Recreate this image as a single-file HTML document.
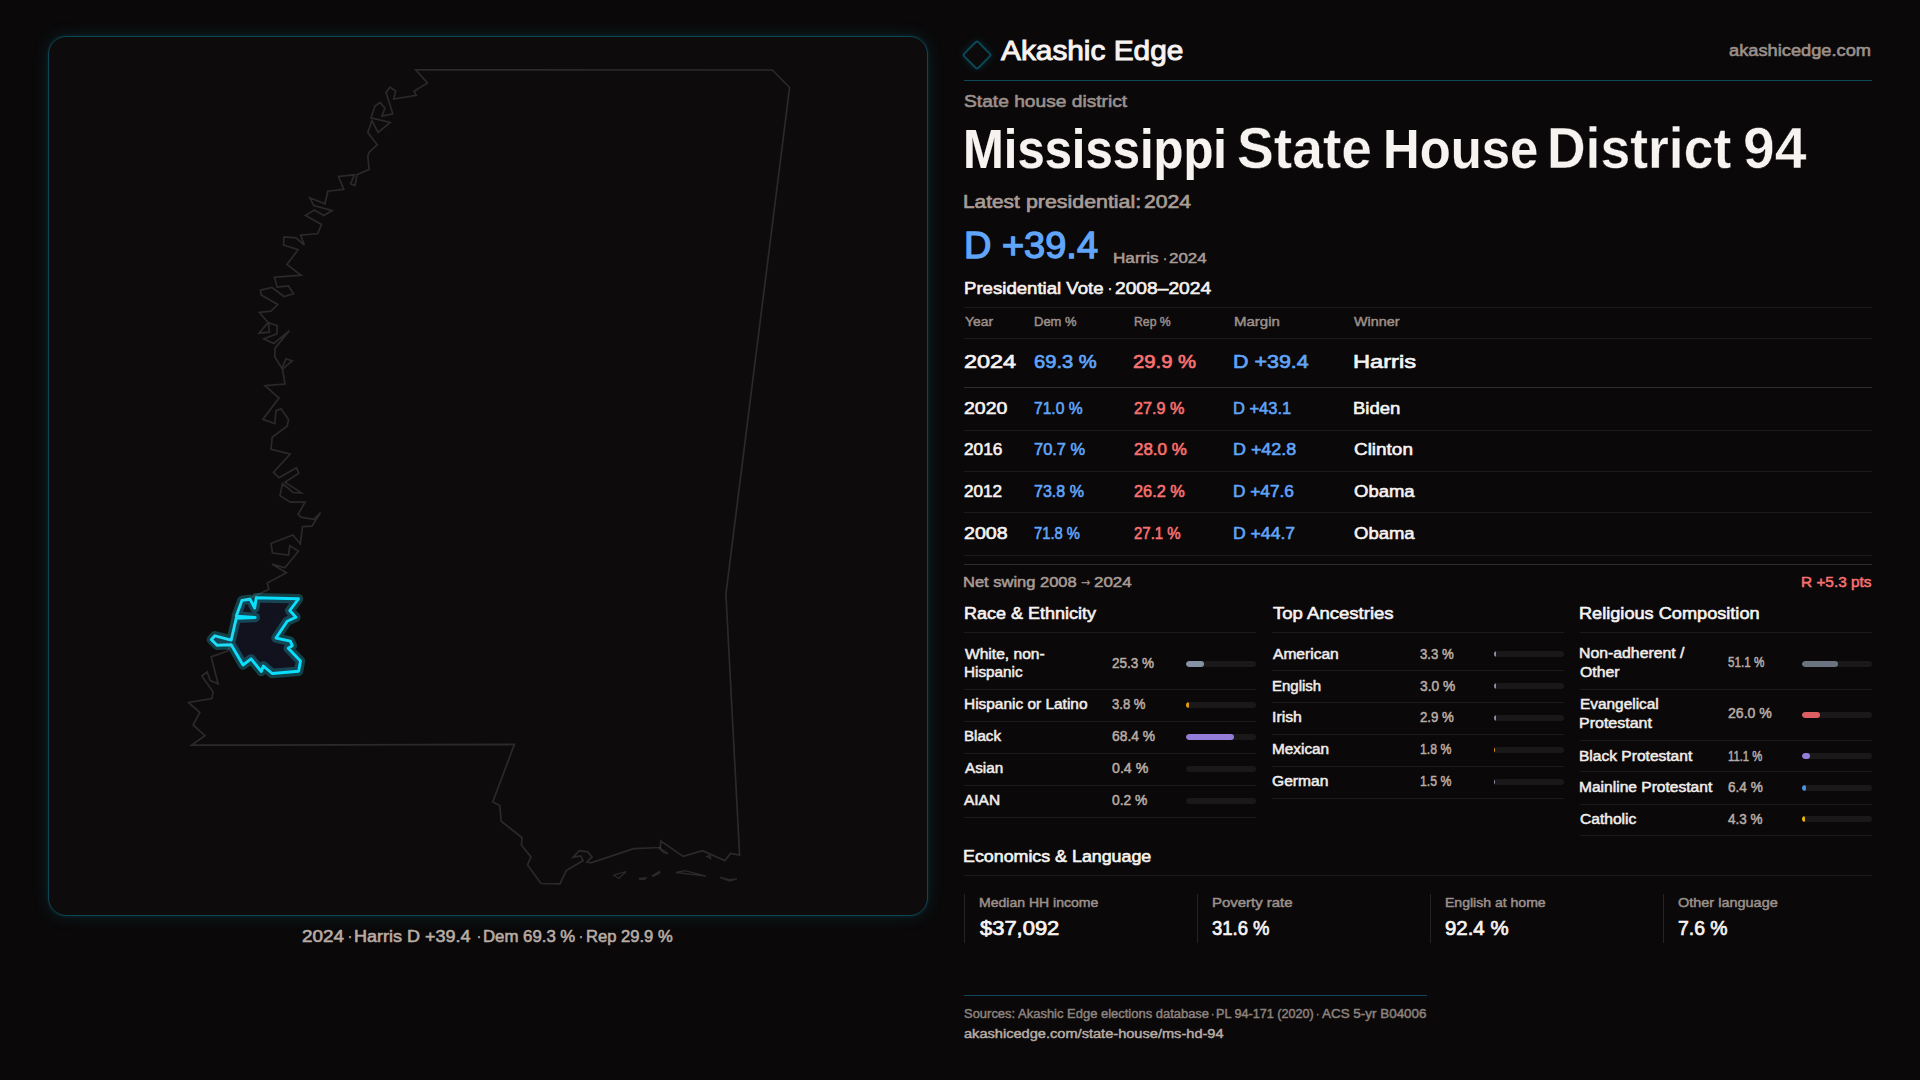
<!DOCTYPE html>
<html lang="en"><head><meta charset="utf-8"><title>Mississippi State House District 94 — Akashic Edge</title>
<style>
html,body{margin:0;padding:0}
body{width:1920px;height:1080px;overflow:hidden;background:#0a0809;font-family:"Liberation Sans", sans-serif;position:relative}
.t{position:absolute;display:block;white-space:pre;line-height:1;font-weight:400;transform-origin:0 0}
.t.b{font-weight:700}
.ln{position:absolute;display:block;height:1px}
.bar{position:absolute;display:block;width:70px;height:6px;border-radius:3px;background:#1a1819;overflow:hidden}
.bar i{display:block;height:6px;border-radius:3px}
#map{position:absolute;left:48px;top:36px;width:878px;height:878px;border:1px solid #0d4757;border-radius:18px;background:#0d0b0c;box-shadow:0 0 18px rgba(34,211,238,.12),0 0 4px rgba(34,211,238,.10)}
#map svg{position:absolute;left:-1px;top:-1px;width:880px;height:880px}
#logo{position:absolute;left:966.2px;top:44px;width:18px;height:18px;border:2px solid #0a4757;border-radius:3px;transform:rotate(45deg);box-shadow:0 0 10px rgba(34,211,238,.14);background:#0c0a0b}
section,header,footer,figure,figcaption{display:block;margin:0;position:absolute;left:0;top:0}
h1,h2{margin:0;font-size:inherit;font-weight:inherit}
</style></head><body>
<figure>
<div id="map"><svg viewBox="48 36 880 880" fill="none">
<g stroke-linejoin="round" stroke-linecap="round">
<path d="M256.2,597.8 L298.5,598.8 L289.8,610.5 L295.9,617.2 L287.2,621.2 L276.0,638.0 L290.3,641.1 L292.3,645.7 L288.3,648.2 L300.5,661.0 L298.6,671.2 L272.2,673.5 L263.3,666.0 L261.3,671.5 L251.1,658.9 L243.0,665.0 L231.2,644.7 L217.0,645.2 L211.4,639.6 L214.9,635.8 L231.2,640.1 L236.3,618.2 L255.2,617.5 L236.3,616.1 L241.9,600.4 L250.1,599.3 L254.7,608.0 Z" fill="#12121e" stroke="#22d3ee" stroke-opacity=".27" stroke-width="9.5"/>
<path d="M256.2,597.8 L298.5,598.8 L289.8,610.5 L295.9,617.2 L287.2,621.2 L276.0,638.0 L290.3,641.1 L292.3,645.7 L288.3,648.2 L300.5,661.0 L298.6,671.2 L272.2,673.5 L263.3,666.0 L261.3,671.5 L251.1,658.9 L243.0,665.0 L231.2,644.7 L217.0,645.2 L211.4,639.6 L214.9,635.8 L231.2,640.1 L236.3,618.2 L255.2,617.5 L236.3,616.1 L241.9,600.4 L250.1,599.3 L254.7,608.0 Z" stroke="#0adffd" stroke-width="2.9"/>
<path d="M415.6,69.8 L427.5,82.9 L414.0,91.2 L416.2,95.4 L393.8,99.0 L395.6,91.0 L390.0,87.2 L386.0,92.5 L392.8,113.8 L381.9,116.2 L385.0,108.1 L380.0,102.5 L375.0,106.0 L371.0,117.8 L390.2,122.5 L378.1,132.5 L371.9,120.6 L367.8,132.5 L377.2,144.8 L369.4,151.9 L367.8,156.2 L369.1,169.4 L356.9,174.8 L355.0,185.6 L350.6,183.8 L354.4,174.8 L338.5,176.5 L343.8,189.4 L327.8,191.2 L325.0,203.8 L309.8,197.8 L313.8,205.6 L332.2,210.6 L323.8,215.4 L314.4,210.0 L305.6,215.4 L321.5,224.4 L317.8,233.5 L300.6,235.2 L304.4,245.2 L296.0,237.8 L284.0,236.9 L283.5,245.0 L298.1,249.8 L286.9,264.4 L301.2,275.2 L274.4,277.2 L277.2,287.2 L288.5,286.0 L293.5,293.8 L284.0,296.5 L271.9,287.5 L260.6,290.2 L261.2,295.0 L277.8,304.4 L271.0,311.2 L259.4,312.5 L268.1,322.5 L259.0,333.1 L269.4,332.2 L268.5,322.8 L277.2,325.6 L276.9,333.8 L263.8,338.8 L273.8,343.5 L289.4,330.6 L275.0,348.1 L274.8,356.9 L281.9,368.1 L286.0,358.8 L292.2,360.9 L282.5,369.0 L285.0,384.0 L265.0,385.6 L279.0,398.1 L262.8,419.4 L274.8,423.5 L276.0,410.6 L281.0,408.8 L288.5,419.4 L287.2,426.0 L272.2,437.2 L271.0,449.4 L290.2,454.0 L273.5,472.2 L279.0,477.8 L296.5,467.8 L298.8,473.1 L285.0,482.2 L301.5,492.9 L293.1,492.5 L282.5,483.5 L280.0,495.6 L290.2,502.2 L305.0,502.2 L298.1,514.4 L301.0,517.2 L314.0,519.4 L320.6,512.5 L311.9,526.2 L302.5,526.6 L300.3,543.8 L292.8,535.0 L271.0,543.5 L272.5,553.1 L288.5,555.0 L289.8,545.6 L298.5,551.2 L284.8,567.8 L271.9,564.0 L286.5,572.8 L267.2,583.1 L268.9,589.2 L253.1,596.8 L241.9,600.4 L236.3,617.0 L231.2,640.0 L214.9,635.8 L211.4,639.6 L217.0,645.2 L231.2,644.7 L227.5,651.0 L211.2,656.9 L218.1,683.8 L210.2,680.6 L207.2,671.9 L201.9,676.0 L213.1,691.9 L211.9,698.5 L188.5,702.5 L199.8,712.5 L193.1,725.0 L205.0,735.6 L191.5,745.2 L514.4,744.4 L492.8,801.9 L499.8,805.6 L501.2,821.2 L521.9,837.5 L521.5,845.3 L531.0,856.9 L527.5,865.0 L541.0,883.5 L560.0,883.8 L566.2,870.6 L583.1,860.6 L580.6,855.9 L573.1,857.2 L579.4,850.6 L587.7,851.9 L592.0,856.9 L587.0,861.9 L591.0,862.8 L633.8,848.7 L660.3,847.5 L660.8,841.0 L683.1,856.4 L702.6,850.6 L724.8,860.6 L730.6,853.5 L739.6,855.0 L725.9,594.0 L789.6,87.5 L772.3,70.0 Z" stroke="#c8beb9" stroke-opacity=".17" stroke-width="1.7" stroke-linejoin="miter"/>
<path d="M659.5,847.8 L668.1,853.5 L664.0,852.6 L659.5,849.0 Z M706.9,856.5 L710.6,858.5 L710.0,855.6 Z M613.8,875.2 L626.2,871.5 L618.8,878.5 Z M639.4,878.5 L646.0,877.8 L645.0,879.0 L640.0,879.4 Z M652.5,875.6 L659.4,871.5 L659.8,872.6 L653.4,876.5 Z M676.0,872.5 L685.0,870.6 L706.2,876.2 Z M720.0,877.5 L729.4,881.0 L736.9,878.8 L729.4,879.6 Z" stroke="#c8beb9" stroke-opacity=".17" stroke-width="1.3" stroke-linejoin="miter"/>
</g></svg></div>
<figcaption><span class="t" style="left:301.67px;top:928.20px;font-size:16.19px;transform:scaleX(1.1632);color:#b8aca5;-webkit-text-stroke:0.58px #b8aca5">2024</span>
<span class="t" style="left:348.29px;top:928.20px;font-size:16.19px;transform:scaleX(0.7257);color:#b8aca5;-webkit-text-stroke:0.58px #b8aca5">·</span>
<span class="t" style="left:353.75px;top:928.20px;font-size:16.19px;transform:scaleX(1.1111);color:#b8aca5;-webkit-text-stroke:0.58px #b8aca5">Harris D +39.4</span>
<span class="t" style="left:476.79px;top:928.20px;font-size:16.19px;transform:scaleX(0.7257);color:#b8aca5;-webkit-text-stroke:0.58px #b8aca5">·</span>
<span class="t" style="left:482.57px;top:928.20px;font-size:16.19px;transform:scaleX(1.0360);color:#b8aca5;-webkit-text-stroke:0.58px #b8aca5">Dem 69.3 %</span>
<span class="t" style="left:579.49px;top:928.20px;font-size:16.19px;transform:scaleX(0.7257);color:#b8aca5;-webkit-text-stroke:0.58px #b8aca5">·</span>
<span class="t" style="left:585.68px;top:928.20px;font-size:16.19px;transform:scaleX(1.0241);color:#b8aca5;-webkit-text-stroke:0.58px #b8aca5">Rep 29.9 %</span></figcaption>
</figure>
<header><div id="logo"></div>
<span class="t" style="left:1000.66px;top:36.98px;font-size:27.9px;transform:scaleX(1.0691);color:#f6f3f1;-webkit-text-stroke:1.00px #f6f3f1">Akashic Edge</span>
<span class="t" style="left:1728.57px;top:42.95px;font-size:16.66px;transform:scaleX(1.0959);color:#9c908a;-webkit-text-stroke:0.60px #9c908a">akashicedge.com</span>
<i class="ln" style="left:964px;top:80px;width:908px;background:#0c4858"></i>
</header>
<section id="title">
<h1><span class="t b" style="left:962.61px;top:120.93px;font-size:55.84px;transform:scaleX(0.8771);color:#f6f3f1;-webkit-text-stroke:0.11px #f6f3f1">Mississippi</span>
<span class="t b" style="left:1236.72px;top:120.86px;font-size:56.63px;transform:scaleX(0.9756);color:#f6f3f1;-webkit-text-stroke:0.45px #0a0809">State</span>
<span class="t b" style="left:1382.53px;top:121.06px;font-size:56.16px;transform:scaleX(0.9040);color:#f6f3f1;-webkit-text-stroke:0.11px #0a0809">House</span>
<span class="t b" style="left:1546.71px;top:120.93px;font-size:56.55px;transform:scaleX(0.9458);color:#f6f3f1;-webkit-text-stroke:0.40px #0a0809">District</span>
<span class="t b" style="left:1742.74px;top:120.73px;font-size:56.79px;transform:scaleX(1.0061);color:#f6f3f1;-webkit-text-stroke:0.57px #0a0809">94</span></h1>
<span class="t" style="left:963.75px;top:94.00px;font-size:16.66px;transform:scaleX(1.1520);color:#9c908a;-webkit-text-stroke:0.60px #9c908a">State house district</span>
<span class="t" style="left:962.68px;top:193.09px;font-size:18.09px;transform:scaleX(1.1540);color:#a89b95;-webkit-text-stroke:0.65px #a89b95">Latest</span>
<span class="t" style="left:1025.77px;top:193.09px;font-size:18.09px;transform:scaleX(1.1808);color:#a89b95;-webkit-text-stroke:0.65px #a89b95">presidential:</span>
<span class="t" style="left:1143.67px;top:193.09px;font-size:18.09px;transform:scaleX(1.1696);color:#a89b95;-webkit-text-stroke:0.65px #a89b95">2024</span>
<span class="t" style="left:963.70px;top:226.97px;font-size:37.13px;transform:scaleX(1.0224);color:#60a5fa;-webkit-text-stroke:1.34px #60a5fa">D +39.4</span>
<span class="t" style="left:1112.82px;top:251.91px;font-size:13.81px;transform:scaleX(1.2418);color:#a89b95;-webkit-text-stroke:0.50px #a89b95">Harris</span>
<span class="t" style="left:1162.64px;top:251.91px;font-size:13.81px;transform:scaleX(0.8810);color:#a89b95;-webkit-text-stroke:0.50px #a89b95">·</span>
<span class="t" style="left:1168.60px;top:251.91px;font-size:13.81px;transform:scaleX(1.2257);color:#a89b95;-webkit-text-stroke:0.50px #a89b95">2024</span>
</section>
<section id="pres">
<span class="t" style="left:963.70px;top:280.90px;font-size:16.66px;transform:scaleX(1.1168);color:#f6f3f1;-webkit-text-stroke:0.60px #f6f3f1">Presidential Vote</span>
<span class="t" style="left:1107.89px;top:280.90px;font-size:16.66px;transform:scaleX(0.7223);color:#f6f3f1;-webkit-text-stroke:0.60px #f6f3f1">·</span>
<span class="t" style="left:1114.63px;top:280.90px;font-size:16.66px;transform:scaleX(1.1526);color:#f6f3f1;-webkit-text-stroke:0.60px #f6f3f1">2008–2024</span>
<span class="t" style="left:964.79px;top:316.06px;font-size:12.57px;transform:scaleX(1.1033);color:#9c908a;-webkit-text-stroke:0.45px #9c908a">Year</span>
<span class="t" style="left:1033.71px;top:316.06px;font-size:12.57px;transform:scaleX(1.0344);color:#9c908a;-webkit-text-stroke:0.45px #9c908a">Dem %</span>
<span class="t" style="left:1133.58px;top:316.06px;font-size:12.57px;transform:scaleX(0.9744);color:#9c908a;-webkit-text-stroke:0.45px #9c908a">Rep %</span>
<span class="t" style="left:1233.62px;top:316.06px;font-size:12.57px;transform:scaleX(1.1958);color:#9c908a;-webkit-text-stroke:0.45px #9c908a">Margin</span>
<span class="t" style="left:1353.54px;top:316.06px;font-size:12.57px;transform:scaleX(1.1414);color:#9c908a;-webkit-text-stroke:0.45px #9c908a">Winner</span>
<span class="t" style="left:963.53px;top:352.03px;font-size:19.04px;transform:scaleX(1.2302);color:#f6f3f1;-webkit-text-stroke:0.69px #f6f3f1">2024</span>
<span class="t" style="left:1033.66px;top:352.03px;font-size:19.04px;transform:scaleX(1.0582);color:#60a5fa;-webkit-text-stroke:0.69px #60a5fa">69.3 %</span>
<span class="t" style="left:1132.69px;top:352.03px;font-size:19.04px;transform:scaleX(1.0653);color:#f87171;-webkit-text-stroke:0.69px #f87171">29.9 %</span>
<span class="t" style="left:1232.65px;top:352.03px;font-size:19.04px;transform:scaleX(1.1273);color:#60a5fa;-webkit-text-stroke:0.69px #60a5fa">D +39.4</span>
<span class="t" style="left:1352.77px;top:352.03px;font-size:19.04px;transform:scaleX(1.2421);color:#f6f3f1;-webkit-text-stroke:0.69px #f6f3f1">Harris</span>
<span class="t" style="left:963.55px;top:400.00px;font-size:16.19px;transform:scaleX(1.2045);color:#f6f3f1;-webkit-text-stroke:0.58px #f6f3f1">2020</span>
<span class="t" style="left:1033.72px;top:400.00px;font-size:16.19px;transform:scaleX(0.9648);color:#60a5fa;-webkit-text-stroke:0.58px #60a5fa">71.0 %</span>
<span class="t" style="left:1133.65px;top:400.00px;font-size:16.19px;transform:scaleX(1.0002);color:#f87171;-webkit-text-stroke:0.58px #f87171">27.9 %</span>
<span class="t" style="left:1232.52px;top:400.00px;font-size:16.19px;transform:scaleX(1.0176);color:#60a5fa;-webkit-text-stroke:0.58px #60a5fa">D +43.1</span>
<span class="t" style="left:1352.82px;top:400.00px;font-size:16.19px;transform:scaleX(1.1445);color:#f6f3f1;-webkit-text-stroke:0.58px #f6f3f1">Biden</span>
<span class="t" style="left:963.59px;top:441.00px;font-size:16.19px;transform:scaleX(1.0641);color:#f6f3f1;-webkit-text-stroke:0.58px #f6f3f1">2016</span>
<span class="t" style="left:1033.62px;top:441.00px;font-size:16.19px;transform:scaleX(1.0152);color:#60a5fa;-webkit-text-stroke:0.58px #60a5fa">70.7 %</span>
<span class="t" style="left:1133.56px;top:441.00px;font-size:16.19px;transform:scaleX(1.0473);color:#f87171;-webkit-text-stroke:0.58px #f87171">28.0 %</span>
<span class="t" style="left:1232.69px;top:441.00px;font-size:16.19px;transform:scaleX(1.1056);color:#60a5fa;-webkit-text-stroke:0.58px #60a5fa">D +42.8</span>
<span class="t" style="left:1353.62px;top:441.00px;font-size:16.19px;transform:scaleX(1.1692);color:#f6f3f1;-webkit-text-stroke:0.58px #f6f3f1">Clinton</span>
<span class="t" style="left:963.60px;top:483.00px;font-size:16.19px;transform:scaleX(1.0575);color:#f6f3f1;-webkit-text-stroke:0.58px #f6f3f1">2012</span>
<span class="t" style="left:1033.67px;top:483.00px;font-size:16.19px;transform:scaleX(0.9900);color:#60a5fa;-webkit-text-stroke:0.58px #60a5fa">73.8 %</span>
<span class="t" style="left:1133.64px;top:483.00px;font-size:16.19px;transform:scaleX(1.0083);color:#f87171;-webkit-text-stroke:0.58px #f87171">26.2 %</span>
<span class="t" style="left:1232.75px;top:483.00px;font-size:16.19px;transform:scaleX(1.0660);color:#60a5fa;-webkit-text-stroke:0.58px #60a5fa">D +47.6</span>
<span class="t" style="left:1353.72px;top:483.00px;font-size:16.19px;transform:scaleX(1.1418);color:#f6f3f1;-webkit-text-stroke:0.58px #f6f3f1">Obama</span>
<span class="t" style="left:963.54px;top:524.95px;font-size:16.19px;transform:scaleX(1.2096);color:#f6f3f1;-webkit-text-stroke:0.58px #f6f3f1">2008</span>
<span class="t" style="left:1033.81px;top:524.95px;font-size:16.19px;transform:scaleX(0.9128);color:#60a5fa;-webkit-text-stroke:0.58px #60a5fa">71.8 %</span>
<span class="t" style="left:1133.78px;top:524.95px;font-size:16.19px;transform:scaleX(0.9259);color:#f87171;-webkit-text-stroke:0.58px #f87171">27.1 %</span>
<span class="t" style="left:1232.72px;top:524.95px;font-size:16.19px;transform:scaleX(1.0864);color:#60a5fa;-webkit-text-stroke:0.58px #60a5fa">D +44.7</span>
<span class="t" style="left:1353.72px;top:524.95px;font-size:16.19px;transform:scaleX(1.1418);color:#f6f3f1;-webkit-text-stroke:0.58px #f6f3f1">Obama</span>
<span class="t" style="left:962.70px;top:575.09px;font-size:14.66px;transform:scaleX(1.1248);color:#a89b95;-webkit-text-stroke:0.53px #a89b95">Net swing 2008</span>
<span class="t" style="left:1078.81px;top:569.83px;font-size:19.46px;transform:scaleX(0.6909);color:#a89b95;-webkit-text-stroke:0.39px #a89b95">→</span>
<span class="t" style="left:1093.60px;top:575.09px;font-size:14.66px;transform:scaleX(1.1555);color:#a89b95;-webkit-text-stroke:0.53px #a89b95">2024</span>
<span class="t" style="left:1800.64px;top:575.09px;font-size:14.66px;transform:scaleX(1.0494);color:#f87171;-webkit-text-stroke:0.53px #f87171">R +5.3 pts</span>
<i class="ln" style="left:964px;top:307px;width:908px;background:#1e1b1c"></i><i class="ln" style="left:964px;top:338px;width:908px;background:#1e1b1c"></i><i class="ln" style="left:964px;top:387px;width:908px;background:#2f2c2d"></i><i class="ln" style="left:964px;top:430px;width:908px;background:#1e1b1c"></i><i class="ln" style="left:964px;top:471px;width:908px;background:#1e1b1c"></i><i class="ln" style="left:964px;top:512px;width:908px;background:#1e1b1c"></i><i class="ln" style="left:964px;top:555px;width:908px;background:#1e1b1c"></i><i class="ln" style="left:964px;top:564px;width:908px;background:#2f2c2d"></i>
</section>
<section id="race">
<span class="t" style="left:963.75px;top:605.90px;font-size:16.66px;transform:scaleX(1.0801);color:#f6f3f1;-webkit-text-stroke:0.60px #f6f3f1">Race &amp; Ethnicity</span>
<span class="t" style="left:964.75px;top:646.95px;font-size:14.0px;transform:scaleX(1.1125);color:#f1edea;-webkit-text-stroke:0.50px #f1edea">White, non-</span>
<span class="t" style="left:963.60px;top:664.95px;font-size:14.0px;transform:scaleX(1.0902);color:#f1edea;-webkit-text-stroke:0.50px #f1edea">Hispanic</span>
<span class="t" style="left:1111.67px;top:655.55px;font-size:14.0px;transform:scaleX(0.9642);color:#b8aca5;-webkit-text-stroke:0.50px #b8aca5">25.3 %</span>
<span class="t" style="left:963.79px;top:697.05px;font-size:14.0px;transform:scaleX(1.1020);color:#f1edea;-webkit-text-stroke:0.50px #f1edea">Hispanic or Latino</span>
<span class="t" style="left:1111.77px;top:697.05px;font-size:14.0px;transform:scaleX(0.9355);color:#b8aca5;-webkit-text-stroke:0.50px #b8aca5">3.8 %</span>
<span class="t" style="left:963.67px;top:728.95px;font-size:14.0px;transform:scaleX(1.0801);color:#f1edea;-webkit-text-stroke:0.50px #f1edea">Black</span>
<span class="t" style="left:1111.56px;top:728.95px;font-size:14.0px;transform:scaleX(0.9876);color:#b8aca5;-webkit-text-stroke:0.50px #b8aca5">68.4 %</span>
<span class="t" style="left:964.57px;top:760.95px;font-size:14.0px;transform:scaleX(1.0878);color:#f1edea;-webkit-text-stroke:0.50px #f1edea">Asian</span>
<span class="t" style="left:1111.77px;top:760.95px;font-size:14.0px;transform:scaleX(1.0125);color:#b8aca5;-webkit-text-stroke:0.50px #b8aca5">0.4 %</span>
<span class="t" style="left:963.68px;top:792.95px;font-size:14.0px;transform:scaleX(1.1040);color:#f1edea;-webkit-text-stroke:0.50px #f1edea">AIAN</span>
<span class="t" style="left:1111.76px;top:792.95px;font-size:14.0px;transform:scaleX(0.9888);color:#b8aca5;-webkit-text-stroke:0.50px #b8aca5">0.2 %</span>
<i class="ln" style="left:964px;top:632px;width:292px;background:#1e1b1c"></i><i class="ln" style="left:964px;top:689px;width:292px;background:#1e1b1c"></i><i class="ln" style="left:964px;top:721px;width:292px;background:#1e1b1c"></i><i class="ln" style="left:964px;top:753px;width:292px;background:#1e1b1c"></i><i class="ln" style="left:964px;top:785px;width:292px;background:#1e1b1c"></i><i class="ln" style="left:964px;top:817px;width:292px;background:#1e1b1c"></i><b class="bar" style="left:1186px;top:661px"><i style="width:17.71px;background:#8793a5"></i></b><b class="bar" style="left:1186px;top:702px"><i style="width:2.66px;background:#e2980e"></i></b><b class="bar" style="left:1186px;top:734px"><i style="width:47.88px;background:#947cd9"></i></b><b class="bar" style="left:1186px;top:766px"></b><b class="bar" style="left:1186px;top:798px"></b>
</section>
<section id="anc">
<span class="t" style="left:1272.50px;top:605.90px;font-size:16.66px;transform:scaleX(1.1138);color:#f6f3f1;-webkit-text-stroke:0.60px #f6f3f1">Top Ancestries</span>
<span class="t" style="left:1272.79px;top:646.55px;font-size:14.0px;transform:scaleX(1.1122);color:#f1edea;-webkit-text-stroke:0.50px #f1edea">American</span>
<span class="t" style="left:1419.54px;top:646.55px;font-size:14.0px;transform:scaleX(0.9415);color:#b8aca5;-webkit-text-stroke:0.50px #b8aca5">3.3 %</span>
<span class="t" style="left:1271.54px;top:678.55px;font-size:14.0px;transform:scaleX(1.0696);color:#f1edea;-webkit-text-stroke:0.50px #f1edea">English</span>
<span class="t" style="left:1419.53px;top:678.55px;font-size:14.0px;transform:scaleX(0.9842);color:#b8aca5;-webkit-text-stroke:0.50px #b8aca5">3.0 %</span>
<span class="t" style="left:1271.59px;top:709.95px;font-size:14.0px;transform:scaleX(1.1282);color:#f1edea;-webkit-text-stroke:0.50px #f1edea">Irish</span>
<span class="t" style="left:1419.74px;top:709.95px;font-size:14.0px;transform:scaleX(0.9469);color:#b8aca5;-webkit-text-stroke:0.50px #b8aca5">2.9 %</span>
<span class="t" style="left:1271.79px;top:741.95px;font-size:14.0px;transform:scaleX(1.0958);color:#f1edea;-webkit-text-stroke:0.50px #f1edea">Mexican</span>
<span class="t" style="left:1419.78px;top:741.95px;font-size:14.0px;transform:scaleX(0.8745);color:#b8aca5;-webkit-text-stroke:0.50px #b8aca5">1.8 %</span>
<span class="t" style="left:1271.73px;top:773.95px;font-size:14.0px;transform:scaleX(1.1140);color:#f1edea;-webkit-text-stroke:0.50px #f1edea">German</span>
<span class="t" style="left:1419.78px;top:773.95px;font-size:14.0px;transform:scaleX(0.8745);color:#b8aca5;-webkit-text-stroke:0.50px #b8aca5">1.5 %</span>
<i class="ln" style="left:1272px;top:632px;width:292px;background:#1e1b1c"></i><i class="ln" style="left:1272px;top:670px;width:292px;background:#1e1b1c"></i><i class="ln" style="left:1272px;top:702px;width:292px;background:#1e1b1c"></i><i class="ln" style="left:1272px;top:734px;width:292px;background:#1e1b1c"></i><i class="ln" style="left:1272px;top:766px;width:292px;background:#1e1b1c"></i><i class="ln" style="left:1272px;top:798px;width:292px;background:#1e1b1c"></i><b class="bar" style="left:1494px;top:651px"><i style="width:2.31px;background:#8793a5"></i></b><b class="bar" style="left:1494px;top:683px"><i style="width:2.10px;background:#8793a5"></i></b><b class="bar" style="left:1494px;top:715px"><i style="width:2.03px;background:#8793a5"></i></b><b class="bar" style="left:1494px;top:747px"><i style="width:1.26px;background:#e2980e"></i></b><b class="bar" style="left:1494px;top:779px"><i style="width:1.05px;background:#8793a5"></i></b>
</section>
<section id="rel">
<span class="t" style="left:1578.53px;top:605.90px;font-size:16.66px;transform:scaleX(1.0898);color:#f6f3f1;-webkit-text-stroke:0.60px #f6f3f1">Religious Composition</span>
<span class="t" style="left:1578.57px;top:646.05px;font-size:14.0px;transform:scaleX(1.1293);color:#f1edea;-webkit-text-stroke:0.50px #f1edea">Non-adherent /</span>
<span class="t" style="left:1579.61px;top:665.05px;font-size:14.0px;transform:scaleX(1.1293);color:#f1edea;-webkit-text-stroke:0.50px #f1edea">Other</span>
<span class="t" style="left:1727.63px;top:654.95px;font-size:14.0px;transform:scaleX(0.8336);color:#b8aca5;-webkit-text-stroke:0.50px #b8aca5">51.1 %</span>
<span class="t" style="left:1579.66px;top:697.05px;font-size:14.0px;transform:scaleX(1.1000);color:#f1edea;-webkit-text-stroke:0.50px #f1edea">Evangelical</span>
<span class="t" style="left:1578.69px;top:716.05px;font-size:14.0px;transform:scaleX(1.1421);color:#f1edea;-webkit-text-stroke:0.50px #f1edea">Protestant</span>
<span class="t" style="left:1727.73px;top:706.05px;font-size:14.0px;transform:scaleX(1.0050);color:#b8aca5;-webkit-text-stroke:0.50px #b8aca5">26.0 %</span>
<span class="t" style="left:1578.73px;top:748.55px;font-size:14.0px;transform:scaleX(1.1109);color:#f1edea;-webkit-text-stroke:0.50px #f1edea">Black Protestant</span>
<span class="t" style="left:1727.54px;top:748.55px;font-size:14.0px;transform:scaleX(0.8016);color:#b8aca5;-webkit-text-stroke:0.50px #b8aca5">11.1 %</span>
<span class="t" style="left:1578.73px;top:779.95px;font-size:14.0px;transform:scaleX(1.1117);color:#f1edea;-webkit-text-stroke:0.50px #f1edea">Mainline Protestant</span>
<span class="t" style="left:1727.62px;top:779.95px;font-size:14.0px;transform:scaleX(0.9703);color:#b8aca5;-webkit-text-stroke:0.50px #b8aca5">6.4 %</span>
<span class="t" style="left:1579.53px;top:811.55px;font-size:14.0px;transform:scaleX(1.1138);color:#f1edea;-webkit-text-stroke:0.50px #f1edea">Catholic</span>
<span class="t" style="left:1727.59px;top:811.55px;font-size:14.0px;transform:scaleX(0.9606);color:#b8aca5;-webkit-text-stroke:0.50px #b8aca5">4.3 %</span>
<i class="ln" style="left:1580px;top:632px;width:292px;background:#1e1b1c"></i><i class="ln" style="left:1580px;top:689px;width:292px;background:#1e1b1c"></i><i class="ln" style="left:1580px;top:740px;width:292px;background:#1e1b1c"></i><i class="ln" style="left:1580px;top:771px;width:292px;background:#1e1b1c"></i><i class="ln" style="left:1580px;top:804px;width:292px;background:#1e1b1c"></i><i class="ln" style="left:1580px;top:835px;width:292px;background:#1e1b1c"></i><b class="bar" style="left:1802px;top:661px"><i style="width:35.77px;background:#6b7280"></i></b><b class="bar" style="left:1802px;top:712px"><i style="width:18.20px;background:#dd5f64"></i></b><b class="bar" style="left:1802px;top:753px"><i style="width:7.77px;background:#947cd9"></i></b><b class="bar" style="left:1802px;top:785px"><i style="width:4.48px;background:#4a90e2"></i></b><b class="bar" style="left:1802px;top:816px"><i style="width:3.01px;background:#eab308"></i></b>
</section>
<section id="econ">
<span class="t" style="left:962.72px;top:848.90px;font-size:16.66px;transform:scaleX(1.0701);color:#f6f3f1;-webkit-text-stroke:0.60px #f6f3f1">Economics &amp; Language</span>
<span class="t" style="left:978.62px;top:897.04px;font-size:12.95px;transform:scaleX(1.0839);color:#9c908a;-webkit-text-stroke:0.47px #9c908a">Median HH income</span>
<span class="t" style="left:979.75px;top:918.03px;font-size:19.99px;transform:scaleX(1.0979);color:#f6f3f1;-webkit-text-stroke:0.72px #f6f3f1">$37,092</span>
<span class="t" style="left:1211.67px;top:897.04px;font-size:12.95px;transform:scaleX(1.1540);color:#9c908a;-webkit-text-stroke:0.47px #9c908a">Poverty rate</span>
<span class="t" style="left:1211.82px;top:918.03px;font-size:19.99px;transform:scaleX(0.9252);color:#f6f3f1;-webkit-text-stroke:0.72px #f6f3f1">31.6 %</span>
<span class="t" style="left:1444.61px;top:897.04px;font-size:12.95px;transform:scaleX(1.0852);color:#9c908a;-webkit-text-stroke:0.47px #9c908a">English at home</span>
<span class="t" style="left:1444.53px;top:918.03px;font-size:19.99px;transform:scaleX(1.0209);color:#f6f3f1;-webkit-text-stroke:0.72px #f6f3f1">92.4 %</span>
<span class="t" style="left:1677.55px;top:897.04px;font-size:12.95px;transform:scaleX(1.1184);color:#9c908a;-webkit-text-stroke:0.47px #9c908a">Other language</span>
<span class="t" style="left:1677.65px;top:918.03px;font-size:19.99px;transform:scaleX(0.9699);color:#f6f3f1;-webkit-text-stroke:0.72px #f6f3f1">7.6 %</span>
<i class="ln" style="left:964px;top:875px;width:908px;background:#1e1b1c"></i><i class="ln" style="left:964px;top:894px;width:1px;height:49px;background:#262324"></i><i class="ln" style="left:1197px;top:894px;width:1px;height:49px;background:#262324"></i><i class="ln" style="left:1430px;top:894px;width:1px;height:49px;background:#262324"></i><i class="ln" style="left:1663px;top:894px;width:1px;height:49px;background:#262324"></i>
</section>
<footer>
<i class="ln" style="left:964px;top:995px;width:463px;background:#0c4858"></i>
<span class="t" style="left:963.79px;top:1008.00px;font-size:12.28px;transform:scaleX(1.0571);color:#8d837e;-webkit-text-stroke:0.44px #8d837e">Sources: Akashic Edge elections database</span>
<span class="t" style="left:1210.86px;top:1008.00px;font-size:12.28px;transform:scaleX(0.8190);color:#8d837e;-webkit-text-stroke:0.44px #8d837e">·</span>
<span class="t" style="left:1215.70px;top:1008.00px;font-size:12.28px;transform:scaleX(1.0296);color:#8d837e;-webkit-text-stroke:0.44px #8d837e">PL 94-171 (2020)</span>
<span class="t" style="left:1315.86px;top:1008.00px;font-size:12.28px;transform:scaleX(0.8190);color:#8d837e;-webkit-text-stroke:0.44px #8d837e">·</span>
<span class="t" style="left:1321.52px;top:1008.00px;font-size:12.28px;transform:scaleX(1.0952);color:#8d837e;-webkit-text-stroke:0.44px #8d837e">ACS 5-yr B04006</span>
<span class="t" style="left:963.88px;top:1027.97px;font-size:12.38px;transform:scaleX(1.1794);color:#b8aca5;-webkit-text-stroke:0.45px #b8aca5">akashicedge.com/state-house/ms-hd-94</span>
</footer>
</body></html>
